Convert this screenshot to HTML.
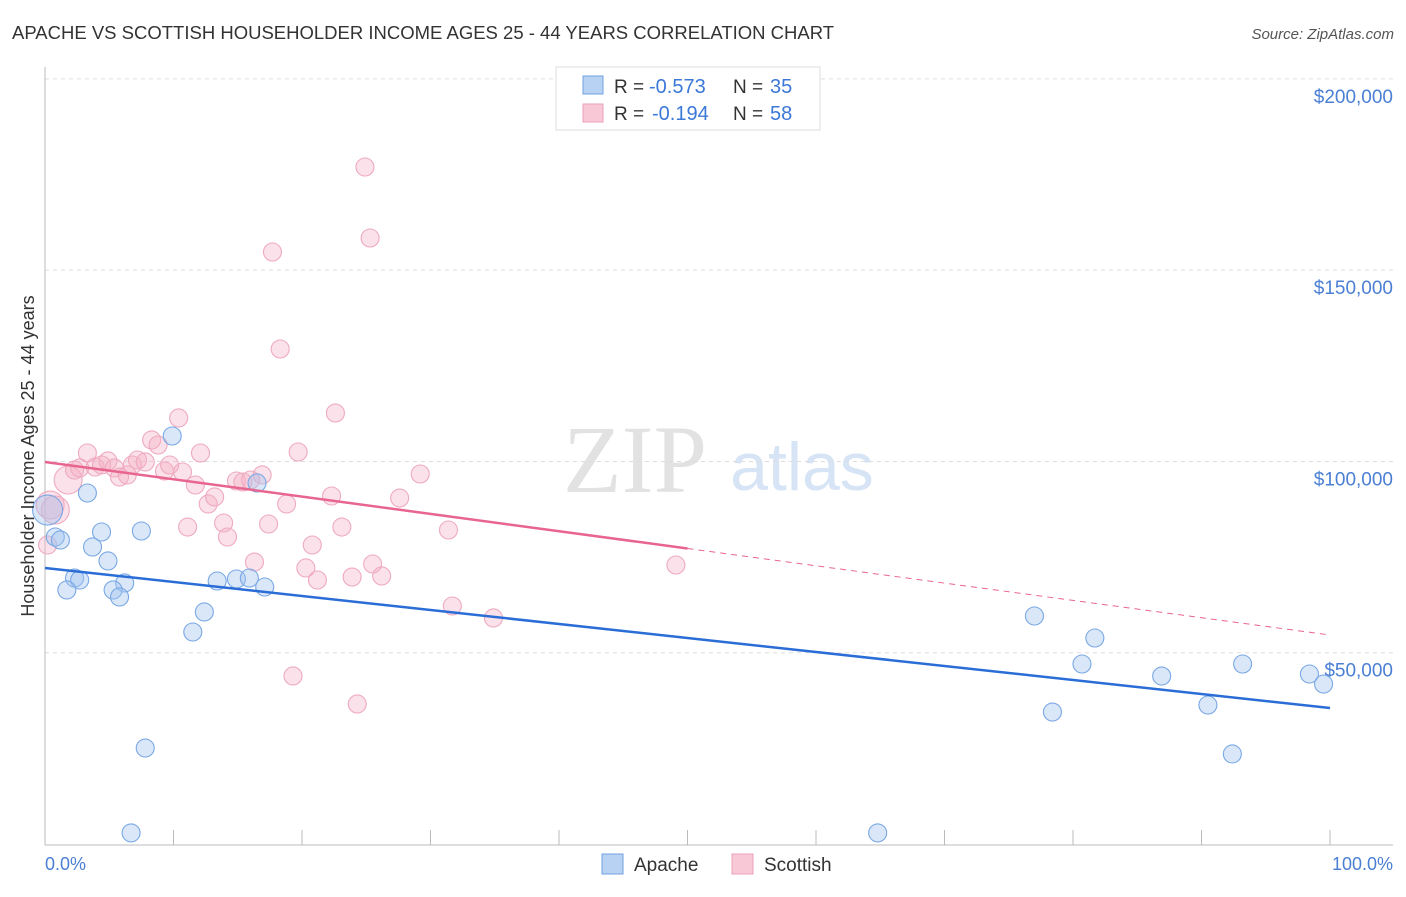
<!DOCTYPE html>
<html><head><meta charset="utf-8"><style>
body{margin:0;background:#fff;font-family:"Liberation Sans",sans-serif;}
</style></head><body>
<svg id="chart" width="1406" height="892" xmlns="http://www.w3.org/2000/svg">
<text x="12" y="39" font-size="18.5" fill="#333">APACHE VS SCOTTISH HOUSEHOLDER INCOME AGES 25 - 44 YEARS CORRELATION CHART</text>
<text x="1394" y="39" font-size="15" fill="#555" font-style="italic" text-anchor="end">Source: ZipAtlas.com</text>
<g>
<text x="635" y="492" font-size="96" fill="#e2e2e2" font-family="Liberation Serif,serif" text-anchor="middle">ZIP</text>
<text x="802" y="490" font-size="68" fill="#d6e4f5" text-anchor="middle">atlas</text>
</g>
<g id="grid"></g>
<g id="axes"></g>
<g id="marks"></g>
<text transform="translate(34,456) rotate(-90)" font-size="18" fill="#333" text-anchor="middle">Householder Income Ages 25 - 44 years</text>
<text x="45" y="870" font-size="18" fill="#4a7fd4">0.0%</text>
<text x="1393" y="870" font-size="18" fill="#4a7fd4" text-anchor="end">100.0%</text>
<g>
<rect x="556" y="67" width="264" height="63" fill="#fff" stroke="#ddd"/>
<rect x="583" y="76" width="20" height="18" fill="#b8d2f4" stroke="#6fa0e0"/>
<text x="614" y="93" font-size="19" fill="#333">R =</text>
<text x="649" y="93" font-size="20" fill="#3c78d8">-0.573</text>
<text x="733" y="93" font-size="19" fill="#333">N =</text>
<text x="770" y="93" font-size="20" fill="#3c78d8">35</text>
<rect x="583" y="104" width="20" height="18" fill="#f9c8d6" stroke="#eaa0b8"/>
<text x="614" y="120" font-size="19" fill="#333">R =</text>
<text x="652" y="120" font-size="20" fill="#3c78d8">-0.194</text>
<text x="733" y="120" font-size="19" fill="#333">N =</text>
<text x="770" y="120" font-size="20" fill="#3c78d8">58</text>
</g>
<g>
<rect x="602" y="854" width="21" height="20" fill="#b8d2f4" stroke="#6fa0e0"/>
<text x="634" y="871" font-size="19" fill="#333">Apache</text>
<rect x="732" y="854" width="21" height="20" fill="#f9c8d6" stroke="#eaa0b8"/>
<text x="764" y="871" font-size="19" fill="#333">Scottish</text>
</g>
</svg>
<script>
const yTicks=[50000,100000,150000,200000];
const yTickLabels=["$50,000","$100,000","$150,000","$200,000"];
const apacheX=[0.2,0.8,1.2,2.3,2.7,1.7,3.3,3.7,4.4,4.9,6.2,5.3,5.8,7.5,9.9,12.4,13.4,14.9,15.9,17.1,11.5,16.5,7.8,6.7,77.0,80.7,81.7,78.4,86.9,90.5,93.2,92.4,98.4,99.5,64.8];
const apacheY=[87300,80250,79470,69530,69010,66400,91750,77640,81560,73980,68230,66400,64570,81820,106650,60650,68750,69270,69530,67180,55420,94370,25090,2900,59600,47050,53850,34500,43900,36330,47050,23530,44440,41820,2900];
const scotX=[0.4,0.8,0.2,1.8,2.3,2.7,3.3,3.9,4.4,4.9,5.4,5.8,6.4,6.8,7.2,7.8,8.3,8.8,9.3,9.7,10.4,10.7,11.1,11.7,12.1,12.7,13.2,13.9,14.2,14.9,15.4,16.0,16.9,16.3,17.4,17.7,18.3,18.8,19.3,19.7,20.3,20.8,21.2,22.3,22.6,23.1,23.9,24.3,24.9,25.3,25.5,26.2,27.6,29.2,31.4,31.7,34.9,49.1];
const scotY=[88610,87310,78160,95150,97760,98290,102210,98550,99070,100120,98290,95930,96460,99070,100380,99860,105610,104300,97500,99070,111360,97240,82860,93840,102210,88880,90710,83910,80250,94890,94630,95150,96460,73710,83650,154750,129390,88880,43920,102470,72150,78160,69010,90970,112660,82860,69790,36600,176970,158410,73190,70060,90440,96720,82080,62210,59080,72930];
const bigPts=[0,1,3];
const apacheTrend=[72150,35550];
const scotTrend=[99860,54630];
const scotSolidEnd=50;
const X=v=>45+v*12.85, Y=v=>844-v/261.4;
const NS="http://www.w3.org/2000/svg";
function mk(t,a,p){const e=document.createElementNS(NS,t);for(const k in a)e.setAttribute(k,a[k]);p.appendChild(e);return e;}
const grid=document.getElementById('grid'),axes=document.getElementById('axes'),marks=document.getElementById('marks');
yTicks.forEach((t,i)=>{
 const l=mk('line',{x1:45,x2:1393,y1:Y(t),y2:Y(t),stroke:'#ddd','stroke-dasharray':'4,4'},grid);
 
 
 const tx=mk('text',{x:1393,y:Y(t)+24,'font-size':19,fill:'#4a7fd4','text-anchor':'end'},axes);
 tx.textContent=yTickLabels[i];
 
 
});
const ax=mk('line',{x1:45,x2:45,y1:67,y2:845,stroke:'#bbb'},axes);


const bx=mk('line',{x1:45,x2:1393,y1:845,y2:845,stroke:'#bbb'},axes);


for(let i=0;i<=10;i++){const t=mk('line',{x1:X(i*10),x2:X(i*10),y1:830,y2:845,stroke:'#bbb'},axes);
 
 }
scotX.forEach((x,i)=>{const c=mk('circle',{cx:X(x),cy:Y(scotY[i]),r:bigPts.includes(i)?14:9,fill:'rgba(245,175,198,0.38)',stroke:'#eeaac0','stroke-width':1.1},marks);
 
 });
apacheX.forEach((x,i)=>{const c=mk('circle',{cx:X(x),cy:Y(apacheY[i]),r:i===0?15:9,fill:'rgba(160,196,240,0.4)',stroke:'#7aa8e4','stroke-width':1.1},marks);
 
 });
const sm=scotTrend[0]+(scotTrend[1]-scotTrend[0])*scotSolidEnd/100;
const s1=mk('line',{x1:X(0),y1:Y(scotTrend[0]),x2:X(scotSolidEnd),y2:Y(sm),stroke:'#e8658f','stroke-width':2.5},marks);


const s2=mk('line',{x1:X(scotSolidEnd),y1:Y(sm),x2:X(100),y2:Y(scotTrend[1]),stroke:'#e8658f','stroke-width':1,'stroke-dasharray':'6,5'},marks);


const a1=mk('line',{x1:X(0),y1:Y(apacheTrend[0]),x2:X(100),y2:Y(apacheTrend[1]),stroke:'#2a6dd6','stroke-width':2.5},marks);


</script>
</body></html>
